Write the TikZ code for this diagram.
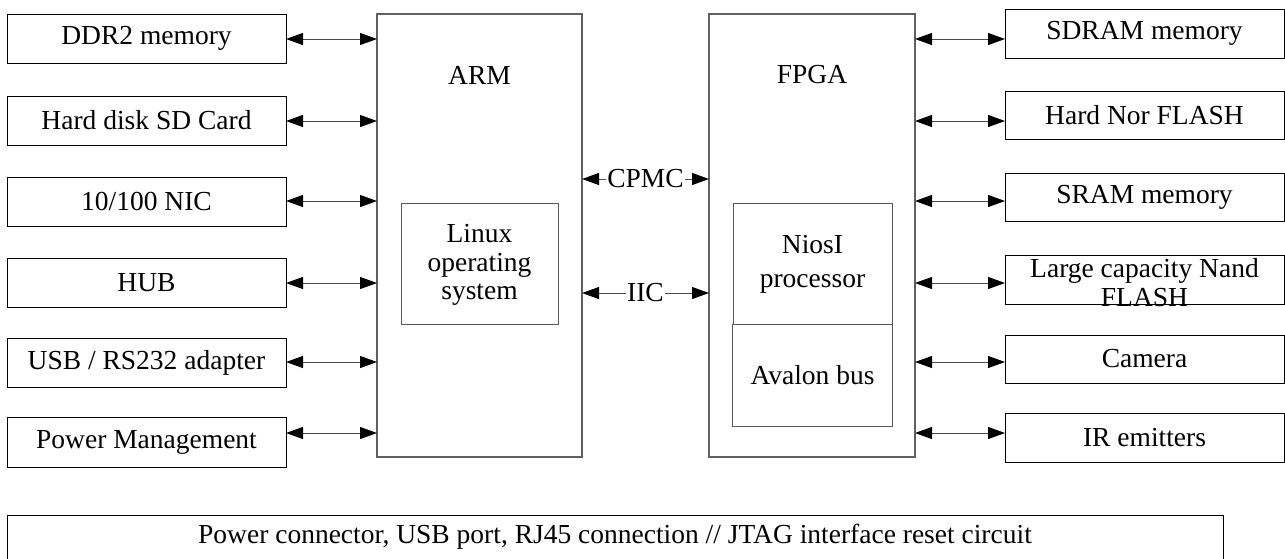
\documentclass[tikz,border=0pt]{standalone}
\usepackage{fontspec}
\setmainfont{Liberation Serif}
\usetikzlibrary{arrows.meta}
\begin{document}
\begin{tikzpicture}[x=1pt,y=-1pt,
  txt/.style={font=\fontsize{27.5}{28.5}\selectfont, align=center},
  box/.style={txt, draw=black, line width=1pt, inner sep=0pt, outer sep=0pt},
  side/.style={box, minimum width=279pt},
  chip/.style={draw=gray!75!black, line width=1.4pt, inner sep=0pt, outer sep=0pt},
  tip/.tip={Triangle[length=17pt,width=12pt,color=black]},
  arr/.style={draw=gray!60!black, line width=1pt, tip-tip},
  lbl/.style={txt, fill=white, inner sep=1pt}]
\useasboundingbox (0,0) rectangle (1285,558);
% central chips
\node[chip, minimum width=205pt, minimum height=443pt] (arm) at (479.5,235.5) {};
\node[chip, minimum width=206pt, minimum height=443pt] (fpga) at (812,235.5) {};
\node[txt] (armt) at (479.5,75) {ARM};
\node[txt] (fpgat) at (812,75) {FPGA};
\node[box, draw=gray!70!black, minimum width=157pt, minimum height=121pt] (linux) at (479.5,263.5) {};
\node[txt] (linuxt) at (479.5,265) {Linux\\operating\\system};
\node[box, draw=gray!70!black, minimum width=159pt, minimum height=121pt] (nios) at (812.5,263.5) {};
\node[txt, font=\fontsize{27.5}{34}\selectfont] (niost) at (812.5,264) {NiosI\\processor};
\node[box, draw=gray!70!black, minimum width=160pt, minimum height=102pt] (avalon) at (812.5,375) {Avalon bus};
% left boxes
\node[side, minimum height=49pt] (ddr) at (146.5,38.5) {DDR2 memory};
\node[side, minimum height=49pt] (hd) at (146.5,120.5) {Hard disk SD Card};
\node[side, minimum height=49pt] (nic) at (146.5,201.5) {10/100 NIC};
\node[side, minimum height=49pt] (hub) at (146.5,282.5) {HUB};
\node[side, minimum height=49pt] (usb) at (146.5,362.5) {USB / RS232 adapter};
\node[side, minimum height=50pt] (pm) at (146.5,442) {Power Management};
% right boxes
\node[side, minimum height=49pt] (sdram) at (1144.5,33.5) {SDRAM memory};
\node[side, minimum height=48pt] (nor) at (1144.5,115) {Hard Nor FLASH};
\node[side, minimum height=48pt] (sram) at (1144.5,197) {SRAM memory};
\node[side, minimum height=49pt] (nand) at (1144.5,279.5) {};
\node[txt] (nandt) at (1144.5,282.5) {Large capacity Nand\\FLASH};
\node[side, minimum height=48pt] (cam) at (1144.5,359) {Camera};
\node[side, minimum height=49pt] (ir) at (1144.5,437.5) {IR emitters};
% bottom
\node[box, minimum width=1216pt, minimum height=45pt] (bot) at (615,537.5) {};
\node[txt] (bott) at (615,537) {Power connector, USB port, RJ45 connection // JTAG interface reset circuit};
% row levels
\coordinate (r1) at (0,39);
\coordinate (r2) at (0,121);
\coordinate (r3) at (0,201);
\coordinate (r4) at (0,283);
\coordinate (r5) at (0,362);
\coordinate (r6) at (0,433);
\coordinate (c1) at (0,179);
\coordinate (c2) at (0,293);
% left connectors
\draw[arr] (ddr.east |- r1) -- (arm.west |- r1);
\draw[arr] (hd.east |- r2) -- (arm.west |- r2);
\draw[arr] (nic.east |- r3) -- (arm.west |- r3);
\draw[arr] (hub.east |- r4) -- (arm.west |- r4);
\draw[arr] (usb.east |- r5) -- (arm.west |- r5);
\draw[arr] (pm.east |- r6) -- (arm.west |- r6);
% right connectors
\draw[arr] (fpga.east |- r1) -- (sdram.west |- r1);
\draw[arr] (fpga.east |- r2) -- (nor.west |- r2);
\draw[arr] (fpga.east |- r3) -- (sram.west |- r3);
\draw[arr] (fpga.east |- r4) -- (nand.west |- r4);
\draw[arr] (fpga.east |- r5) -- (cam.west |- r5);
\draw[arr] (fpga.east |- r6) -- (ir.west |- r6);
% middle connectors
\draw[arr] (arm.east |- c1) -- node[lbl] (cpmc) {CPMC} (fpga.west |- c1);
\draw[arr] (arm.east |- c2) -- node[lbl] (iic) {IIC} (fpga.west |- c2);
\end{tikzpicture}
\end{document}
